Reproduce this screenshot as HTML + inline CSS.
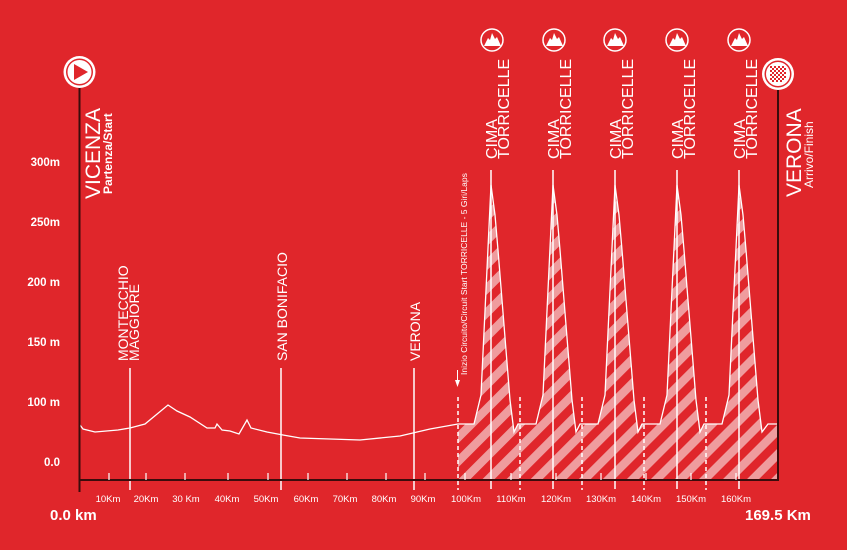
<!DOCTYPE html>
<html><head><meta charset="utf-8"><style>
html,body{margin:0;padding:0;background:#e0262b;}
svg{display:block;font-family:"Liberation Sans",sans-serif;}
</style></head><body>
<svg width="847" height="550" viewBox="0 0 847 550" xmlns="http://www.w3.org/2000/svg">
<defs>
<pattern id="h" width="17" height="17" patternUnits="userSpaceOnUse" patternTransform="rotate(45)">
<rect width="17" height="17" fill="#e0262b"/><rect width="8.5" height="17" fill="#ef9c9e"/>
</pattern>
</defs>
<rect width="847" height="550" fill="#e0262b"/>
<path fill="url(#h)" d="M458,424 L474,424 L481,395 L491,185 L495,215 L498,250 L502,300 L506,350 L510,400 L514,432 L518,424
L536,424 L543,395 L553,185 L557,215 L560,250 L564,300 L568,350 L572,400 L576,432 L580,424
L598,424 L605,395 L615,185 L619,215 L622,250 L626,300 L630,350 L634,400 L638,432 L642,424
L660,424 L667,395 L677,185 L681,215 L684,250 L688,300 L692,350 L696,400 L700,432 L704,424
L722,424 L729,395 L739,185 L743,215 L746,250 L750,300 L754,350 L758,400 L762,432 L768,424 L777,424 L777,480 L458,480 Z"/>
<polyline fill="none" stroke="#fff" stroke-width="1.3" points="80,425 83,429 95,432 118,430 130,428 145,424 168,405 177,411 190,417 207,428 215,428 217,424 222,430 230,431 239,434 247,420 251,428 267,432 283,435 300,438 360,440 400,436 430,429 458,424 474,424 481,395 491,185 495,215 498,250 502,300 506,350 510,400 514,432 518,424
536,424 543,395 553,185 557,215 560,250 564,300 568,350 572,400 576,432 580,424
598,424 605,395 615,185 619,215 622,250 626,300 630,350 634,400 638,432 642,424
660,424 667,395 677,185 681,215 684,250 688,300 692,350 696,400 700,432 704,424
722,424 729,395 739,185 743,215 746,250 750,300 754,350 758,400 762,432 768,424 777,424"/>
<g stroke="#fff" stroke-width="1.5" stroke-dasharray="4,3">
<line x1="458" y1="397" x2="458" y2="490"/><line x1="520" y1="397" x2="520" y2="490"/><line x1="582" y1="397" x2="582" y2="490"/><line x1="644" y1="397" x2="644" y2="490"/><line x1="706" y1="397" x2="706" y2="490"/>
</g>
<g stroke="#fff" stroke-width="1.5">
<line x1="491" y1="170" x2="491" y2="489"/><line x1="553" y1="170" x2="553" y2="489"/><line x1="615" y1="170" x2="615" y2="489"/><line x1="677" y1="170" x2="677" y2="489"/><line x1="739" y1="170" x2="739" y2="489"/>
<line x1="130" y1="368" x2="130" y2="490"/><line x1="281" y1="368" x2="281" y2="490"/><line x1="414" y1="368" x2="414" y2="490"/>
</g>
<line x1="79.5" y1="86" x2="79.5" y2="492" stroke="#3a0c0c" stroke-width="2"/>
<line x1="778" y1="88" x2="778" y2="481" stroke="#3a0c0c" stroke-width="2"/>
<line x1="79" y1="480" x2="778" y2="480" stroke="#3a0c0c" stroke-width="2"/>
<g stroke="#fff" stroke-width="1.2">
<line x1="109" y1="473" x2="109" y2="480"/><line x1="146" y1="473" x2="146" y2="480"/><line x1="185" y1="473" x2="185" y2="480"/><line x1="228" y1="473" x2="228" y2="480"/><line x1="268" y1="473" x2="268" y2="480"/><line x1="308" y1="473" x2="308" y2="480"/><line x1="347" y1="473" x2="347" y2="480"/><line x1="386" y1="473" x2="386" y2="480"/><line x1="425" y1="473" x2="425" y2="480"/><line x1="465" y1="473" x2="465" y2="480"/><line x1="511" y1="473" x2="511" y2="480"/><line x1="556" y1="473" x2="556" y2="480"/><line x1="601" y1="473" x2="601" y2="480"/><line x1="646" y1="473" x2="646" y2="480"/><line x1="691" y1="473" x2="691" y2="480"/><line x1="736" y1="473" x2="736" y2="480"/>
</g>
<g fill="#fff" font-size="9.5" text-anchor="middle">
<text x="108" y="502">10Km</text><text x="146" y="502">20Km</text><text x="186" y="502">30 Km</text><text x="227" y="502">40Km</text><text x="266" y="502">50Km</text><text x="306" y="502">60Km</text><text x="345" y="502">70Km</text><text x="384" y="502">80Km</text><text x="423" y="502">90Km</text><text x="466" y="502">100Km</text><text x="511" y="502">110Km</text><text x="556" y="502">120Km</text><text x="601" y="502">130Km</text><text x="646" y="502">140Km</text><text x="691" y="502">150Km</text><text x="736" y="502">160Km</text>
</g>
<g fill="#fff" font-size="15" font-weight="bold">
<text x="50" y="520">0.0 km</text><text x="745" y="520">169.5 Km</text>
</g>
<g fill="#fff" font-size="11.5" font-weight="bold" text-anchor="end">
<text x="60" y="166">300m</text><text x="60" y="226">250m</text><text x="60" y="286">200 m</text><text x="60" y="346">150 m</text><text x="60" y="406">100 m</text><text x="60" y="466">0.0</text>
</g>
<g fill="#fff" font-size="14">
<text transform="translate(128,361) rotate(-90)">MONTECCHIO</text>
<text transform="translate(139,361) rotate(-90)">MAGGIORE</text>
<text transform="translate(287,361) rotate(-90)">SAN BONIFACIO</text>
<text transform="translate(420,361) rotate(-90)">VERONA</text>
</g>
<g fill="#fff" font-size="16">
<text transform="translate(497,159) rotate(-90)">CIMA</text><text transform="translate(509,159) rotate(-90)">TORRICELLE</text>
<text transform="translate(559,159) rotate(-90)">CIMA</text><text transform="translate(571,159) rotate(-90)">TORRICELLE</text>
<text transform="translate(621,159) rotate(-90)">CIMA</text><text transform="translate(633,159) rotate(-90)">TORRICELLE</text>
<text transform="translate(683,159) rotate(-90)">CIMA</text><text transform="translate(695,159) rotate(-90)">TORRICELLE</text>
<text transform="translate(745,159) rotate(-90)">CIMA</text><text transform="translate(757,159) rotate(-90)">TORRICELLE</text>
</g>
<text transform="translate(467,375) rotate(-90)" fill="#fff" font-size="8.5">Inizio Circuito/Circuit Start TORRICELLE - 5 Giri/Laps</text>
<line x1="457.5" y1="370" x2="457.5" y2="384" stroke="#fff" stroke-width="1"/>
<path d="M455,380 L460,380 L457.5,387 Z" fill="#fff"/>
<g fill="#fff">
<text transform="translate(100,199) rotate(-90)" font-size="21">VICENZA</text>
<text transform="translate(112,194) rotate(-90)" font-size="12" font-weight="bold">Partenza/Start</text>
<text transform="translate(801,197) rotate(-90)" font-size="21">VERONA</text>
<text transform="translate(813,188) rotate(-90)" font-size="12">Arrivo/Finish</text>
</g>
<circle cx="79.5" cy="72" r="16" fill="#fff"/>
<circle cx="79.5" cy="72" r="13.5" fill="#e0262b"/>
<circle cx="79.5" cy="72" r="12" fill="#fff"/>
<path d="M74,64 L88,72 L74,80 Z" fill="#e0262b"/>
<circle cx="778" cy="74" r="16" fill="#fff"/>
<circle cx="778" cy="74" r="13.5" fill="#e0262b"/>
<circle cx="778" cy="74" r="12" fill="#fff"/>
<g fill="#e0262b">
<rect x="770" y="66" width="2" height="2"/><rect x="774" y="66" width="2" height="2"/><rect x="778" y="66" width="2" height="2"/><rect x="782" y="66" width="2" height="2"/>
<rect x="772" y="68" width="2" height="2"/><rect x="776" y="68" width="2" height="2"/><rect x="780" y="68" width="2" height="2"/><rect x="784" y="68" width="2" height="2"/>
<rect x="770" y="70" width="2" height="2"/><rect x="774" y="70" width="2" height="2"/><rect x="778" y="70" width="2" height="2"/><rect x="782" y="70" width="2" height="2"/>
<rect x="772" y="72" width="2" height="2"/><rect x="776" y="72" width="2" height="2"/><rect x="780" y="72" width="2" height="2"/><rect x="784" y="72" width="2" height="2"/>
<rect x="770" y="74" width="2" height="2"/><rect x="774" y="74" width="2" height="2"/><rect x="778" y="74" width="2" height="2"/><rect x="782" y="74" width="2" height="2"/>
<rect x="772" y="76" width="2" height="2"/><rect x="776" y="76" width="2" height="2"/><rect x="780" y="76" width="2" height="2"/><rect x="784" y="76" width="2" height="2"/>
<rect x="770" y="78" width="2" height="2"/><rect x="774" y="78" width="2" height="2"/><rect x="778" y="78" width="2" height="2"/><rect x="782" y="78" width="2" height="2"/>
<rect x="772" y="80" width="2" height="2"/><rect x="776" y="80" width="2" height="2"/><rect x="780" y="80" width="2" height="2"/>
</g>
<g id="m">
<circle cx="492" cy="40" r="11" fill="none" stroke="#fff" stroke-width="1.5"/>
<path d="M484,46 L488,38 L490,40 L492,33 L495,39 L497,37 L501,46 Z" fill="#fff"/>
</g>
<use href="#m" x="62"/><use href="#m" x="123"/><use href="#m" x="185"/><use href="#m" x="247"/>
</svg>
</body></html>
